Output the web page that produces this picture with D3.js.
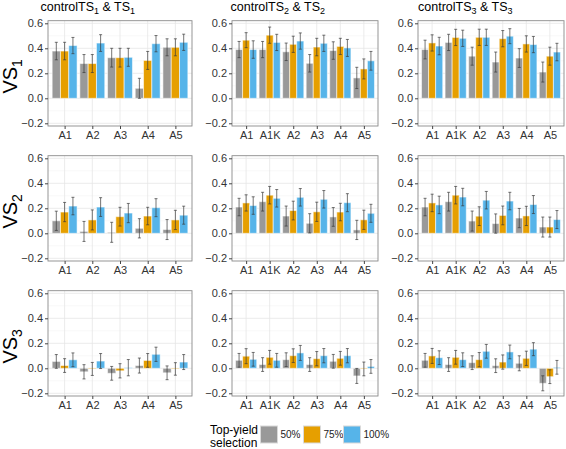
<!DOCTYPE html>
<html><head><meta charset="utf-8">
<script src="https://cdn.jsdelivr.net/npm/d3@7"></script>
<style>body{margin:0;background:#fff}svg{display:block;font-family:"Liberation Sans",Arial,sans-serif}</style>
</head><body><svg id="c" width="566" height="449"></svg>
<script>
const selections = ["50%", "75%", "100%"];
const colors = ["#999999", "#E69F00", "#56B4E9"];
const cats5 = ["A1", "A2", "A3", "A4", "A5"];
const cats6 = ["A1", "A1K", "A2", "A3", "A4", "A5"];
const yTicks = [-0.2, 0.0, 0.2, 0.4, 0.6];
const yMinor = [-0.1, 0.1, 0.3, 0.5];
const rowTitles = ["1", "2", "3"];   // VS subscripts
const colTitles = ["1", "2", "3"];   // TS subscripts

// means per category: [50%, 75%, 100%]
const VS1_TS1 = [[0.378,0.378,0.422],[0.278,0.278,0.442],[0.325,0.325,0.328],[0.08,0.303,0.437],[0.408,0.408,0.448]];
const VS1_TS1_SE = [[0.07,0.07,0.065],[0.072,0.072,0.067],[0.075,0.075,0.072],[0.08,0.072,0.065],[0.068,0.068,0.065]];
const VS1_TS2 = [[0.39,0.465,0.39],[0.39,0.505,0.447],[0.372,0.432,0.458],[0.28,0.41,0.44],[0.382,0.415,0.403],[0.163,0.235,0.30]];
const VS1_TS2_SE = [[0.065,0.06,0.07],[0.065,0.065,0.065],[0.07,0.065,0.065],[0.07,0.07,0.065],[0.07,0.065,0.068],[0.085,0.08,0.075]];
const VS1_TS3 = [[0.39,0.443,0.418],[0.447,0.487,0.48],[0.337,0.488,0.488],[0.29,0.477,0.497],[0.322,0.435,0.43],[0.21,0.337,0.37]];
const VS1_TS3_SE = [[0.075,0.065,0.07],[0.065,0.065,0.065],[0.072,0.065,0.065],[0.08,0.065,0.06],[0.075,0.065,0.065],[0.08,0.072,0.07]];
const VS2_TS1 = [[0.10,0.17,0.218],[0.015,0.107,0.21],[0.008,0.133,0.162],[0.04,0.138,0.205],[0.03,0.107,0.145]];
const VS2_TS1_SE = [[0.077,0.077,0.07],[0.08,0.08,0.075],[0.08,0.075,0.077],[0.077,0.07,0.072],[0.08,0.077,0.072]];
const VS2_TS2 = [[0.21,0.243,0.222],[0.253,0.305,0.28],[0.138,0.182,0.288],[0.08,0.172,0.272],[0.131,0.17,0.245],[0.027,0.108,0.16]];
const VS2_TS2_SE = [[0.07,0.065,0.07],[0.075,0.07,0.07],[0.08,0.075,0.07],[0.077,0.077,0.07],[0.075,0.07,0.072],[0.077,0.077,0.072]];
const VS2_TS3 = [[0.21,0.243,0.227],[0.253,0.305,0.29],[0.098,0.137,0.265],[0.078,0.143,0.258],[0.122,0.139,0.23],[0.05,0.05,0.11]];
const VS2_TS3_SE = [[0.07,0.07,0.07],[0.075,0.07,0.07],[0.08,0.075,0.07],[0.077,0.075,0.07],[0.077,0.077,0.072],[0.08,0.08,0.072]];
const VS3_TS1 = [[0.055,0.022,0.068],[-0.028,-0.005,0.058],[-0.04,-0.02,0.005],[0.022,0.063,0.112],[-0.036,-0.005,0.05]];
const VS3_TS1_SE = [[0.055,0.055,0.055],[0.057,0.052,0.06],[0.055,0.057,0.065],[0.06,0.055,0.057],[0.055,0.05,0.06]];
const VS3_TS2 = [[0.064,0.097,0.072],[0.03,0.088,0.064],[0.069,0.101,0.123],[0.03,0.077,0.101],[0.056,0.08,0.101],[-0.061,-0.005,0.015]];
const VS3_TS2_SE = [[0.055,0.06,0.055],[0.055,0.055,0.055],[0.055,0.055,0.06],[0.055,0.057,0.057],[0.055,0.055,0.057],[0.06,0.055,0.055]];
const VS3_TS3 = [[0.064,0.099,0.085],[0.03,0.088,0.069],[0.045,0.069,0.136],[0.021,0.05,0.131],[0.04,0.08,0.153],[-0.12,-0.067,0.008]];
const VS3_TS3_SE = [[0.055,0.06,0.055],[0.055,0.055,0.055],[0.055,0.057,0.055],[0.055,0.057,0.055],[0.06,0.057,0.052],[0.06,0.055,0.055]];

const panels = [
  [VS1_TS1, VS1_TS1_SE, cats5], [VS1_TS2, VS1_TS2_SE, cats6], [VS1_TS3, VS1_TS3_SE, cats6],
  [VS2_TS1, VS2_TS1_SE, cats5], [VS2_TS2, VS2_TS2_SE, cats6], [VS2_TS3, VS2_TS3_SE, cats6],
  [VS3_TS1, VS3_TS1_SE, cats5], [VS3_TS2, VS3_TS2_SE, cats6], [VS3_TS3, VS3_TS3_SE, cats6]
];

const colX = [[48, 192], [232, 378], [418, 564]];
const rowY = [20.7, 155.7, 290.7];
const panelH = 105.3;
const titleX = [40.5, 230.5, 418];

const svg = d3.select("#c");

panels.forEach((p, idx) => {
  const [means, ses, cats] = p;
  const r = Math.floor(idx / 3), c = idx % 3;
  const [x0, x1] = colX[c];
  const top = rowY[r], bot = top + panelH;
  const y = d3.scaleLinear().domain([-0.2, 0.6]).range([top + 102.6, top + 2.6]);
  const x = d3.scalePoint().domain(cats).range([x0, x1]).padding(0.6);
  const step = x.step();
  const groupW = 0.9 * step, barW = groupW / 3;
  const g = svg.append("g");
  // grid
  g.selectAll(".mn").data(yMinor).enter().append("line")
    .attr("x1", x0).attr("x2", x1).attr("y1", d => y(d)).attr("y2", d => y(d))
    .attr("stroke", "#f2f2f2").attr("stroke-width", 0.6);
  g.selectAll(".mj").data(yTicks).enter().append("line")
    .attr("x1", x0).attr("x2", x1).attr("y1", d => y(d)).attr("y2", d => y(d))
    .attr("stroke", "#e6e6e6").attr("stroke-width", 0.8);
  g.selectAll(".vx").data(cats).enter().append("line")
    .attr("x1", d => x(d)).attr("x2", d => x(d)).attr("y1", top).attr("y2", bot)
    .attr("stroke", "#e6e6e6").attr("stroke-width", 0.8);
  // bars
  const flat = [];
  cats.forEach((cat, i) => selections.forEach((s, j) => flat.push({cat, j, v: means[i][j], e: ses[i][j]})));
  const bx = d => x(d.cat) - groupW / 2 + d.j * barW;
  g.selectAll(".bar").data(flat).enter().append("rect")
    .attr("x", bx).attr("width", barW)
    .attr("y", d => Math.min(y(d.v), y(0))).attr("height", d => Math.abs(y(d.v) - y(0)))
    .attr("fill", d => colors[d.j]).attr("stroke", "#ffffff").attr("stroke-opacity", 0.55).attr("stroke-width", 1);
  // error bars
  const cap = 1.5;
  const eb = g.selectAll(".eb").data(flat).enter().append("g").attr("stroke", "#3a3a3a").attr("stroke-width", 0.7);
  eb.append("line").attr("x1", d => bx(d) + barW / 2).attr("x2", d => bx(d) + barW / 2)
    .attr("y1", d => y(d.v + d.e)).attr("y2", d => y(d.v - d.e));
  eb.append("line").attr("x1", d => bx(d) + barW / 2 - cap).attr("x2", d => bx(d) + barW / 2 + cap)
    .attr("y1", d => y(d.v + d.e)).attr("y2", d => y(d.v + d.e));
  eb.append("line").attr("x1", d => bx(d) + barW / 2 - cap).attr("x2", d => bx(d) + barW / 2 + cap)
    .attr("y1", d => y(d.v - d.e)).attr("y2", d => y(d.v - d.e));
  // border
  g.append("rect").attr("x", x0).attr("y", top).attr("width", x1 - x0).attr("height", panelH)
    .attr("fill", "none").attr("stroke", "#8a8a8a").attr("stroke-width", 0.9);
  // y axis
  const ya = g.append("g").attr("transform", `translate(${x0},0)`)
    .call(d3.axisLeft(y).tickValues(yTicks).tickFormat(d3.format(".1f")).tickSizeInner(3).tickSizeOuter(0).tickPadding(2));
  ya.select(".domain").remove();
  ya.selectAll("line").attr("stroke", "#444");
  ya.selectAll("text").attr("font-size", 11).attr("fill", "#333").attr("font-family", "Liberation Sans, Arial, sans-serif");
  // x axis
  const xa = g.append("g").attr("transform", `translate(0,${bot})`)
    .call(d3.axisBottom(x).tickSizeInner(3).tickSizeOuter(0).tickPadding(2));
  xa.select(".domain").remove();
  xa.selectAll("line").attr("stroke", "#444");
  xa.selectAll("text").attr("font-size", 11).attr("fill", "#333").attr("font-family", "Liberation Sans, Arial, sans-serif");

  // row title
  if (c === 0) {
    const t = svg.append("text").attr("transform", `translate(16.5,${top + panelH / 2 + 3}) rotate(-90)`)
      .attr("text-anchor", "middle").attr("font-size", 20).attr("fill", "#000");
    t.append("tspan").text("VS");
    t.append("tspan").attr("font-size", 14).attr("dy", 5).text(rowTitles[r]);
  }
  // column title
  if (r === 0) {
    const t = svg.append("text").attr("x", titleX[c]).attr("y", 11).attr("font-size", 12.5).attr("fill", "#000");
    t.append("tspan").text("controlTS");
    t.append("tspan").attr("font-size", 9).attr("dy", 3).text(colTitles[c]);
    t.append("tspan").attr("dy", -3).text(" & TS");
    t.append("tspan").attr("font-size", 9).attr("dy", 3).text(colTitles[c]);
  }
});

// legend
const lg = svg.append("g");
lg.append("text").attr("x", 210).attr("y", 434).attr("font-size", 12).text("Top-yield");
lg.append("text").attr("x", 210).attr("y", 447).attr("font-size", 12).text("selection");
const keyX = [260.5, 303.5, 343.5];
selections.forEach((s, j) => {
  lg.append("rect").attr("x", keyX[j]).attr("y", 426).attr("width", 17).attr("height", 17)
    .attr("fill", colors[j]).attr("stroke", "#d9d9d9").attr("stroke-width", 1);
  lg.append("text").attr("x", keyX[j] + 20).attr("y", 438).attr("font-size", 10).attr("fill", "#222").text(s);
});
</script></body></html>
